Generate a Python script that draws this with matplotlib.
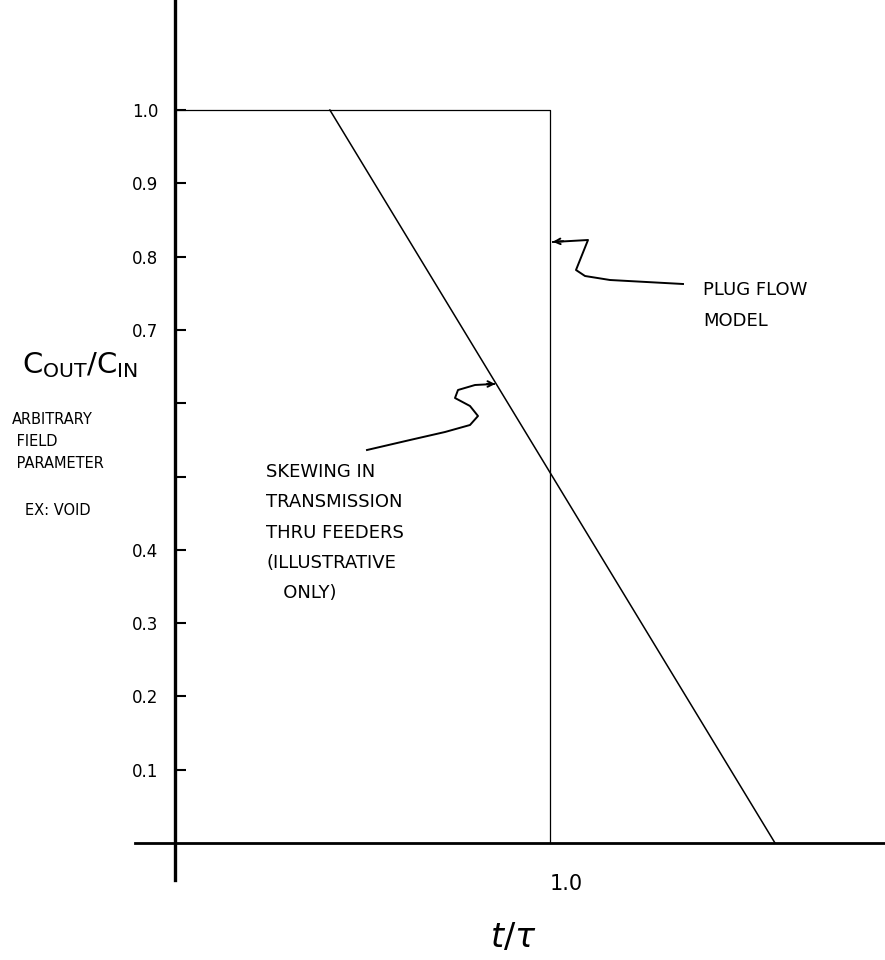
import matplotlib.pyplot as plt
import numpy as np

# plug flow model: step at t/tau = 1
plug_t = [0.0, 1.0, 1.0]
plug_c = [1.0, 1.0, 0.0]

# skewed response (illustrative)
skew_t = [0.413, 1.6]
skew_c = [1.0, 0.0]

y_ticks = [0.1, 0.2, 0.3, 0.4, 0.5, 0.6, 0.7, 0.8, 0.9, 1.0]
y_tick_labels = ["0.1", "0.2", "0.3", "0.4", "", "", "0.7", "0.8", "0.9", "1.0"]
x_ticks = [1.0]
x_tick_labels = ["1.0"]

W, H = 885, 960
X0, SX = 175, 375.0   # pixel of t=0, pixels per unit
Y0, SY = 843, 733.0   # pixel of c=0, pixels per unit


def px(x, y):
    # pixel position -> data position (for annotation sketches)
    return (x - X0) / SX, (Y0 - y) / SY


fig = plt.figure(figsize=(8.85, 9.6), dpi=100)
ax = fig.add_axes([0, 0, 1, 1])
ax.set_xlim(px(0, 0)[0], px(W, 0)[0])
ax.set_ylim(px(0, H)[1], px(0, 0)[1])

# axes drawn as spines through the origin
for s in ["top", "right"]:
    ax.spines[s].set_visible(False)
ax.spines["left"].set_position(("data", 0))
ax.spines["bottom"].set_position(("data", 0))
ax.spines["left"].set_linewidth(2.4)
ax.spines["bottom"].set_linewidth(2.0)
ax.spines["left"].set_bounds(px(0, 880)[1], px(0, 0)[1])
ax.spines["bottom"].set_bounds(px(135, 0)[0], px(W, 0)[0])

ax.set_yticks(y_ticks)
ax.set_yticklabels(y_tick_labels)
ax.tick_params(axis="y", direction="in", length=8, width=1.5, pad=12,
               labelsize=12)
ax.set_xticks(x_ticks)
ax.set_xticklabels(x_tick_labels)
ax.tick_params(axis="x", length=0, pad=22, labelsize=15)
for lab in ax.get_xticklabels():
    lab.set_horizontalalignment("left")

ax.plot(plug_t, plug_c, color="black", linewidth=0.9)
ax.plot(skew_t, skew_c, color="black", linewidth=1.1)

# axis labels
ax.text(*px(513, 937), r"$t/\tau$", fontsize=24, ha="center", va="center")
ax.text(*px(22, 365), r"C$_\mathregular{OUT}$/C$_\mathregular{IN}$",
        fontsize=21, ha="left", va="center")
ax.text(*px(12, 412), "ARBITRARY\n FIELD\n PARAMETER", fontsize=10.5,
        ha="left", va="top", linespacing=1.6)
ax.text(*px(25, 510), "EX: VOID", fontsize=10.5, ha="left", va="center")

# annotations
ax.text(*px(703, 281), "PLUG FLOW\nMODEL", fontsize=13, ha="left", va="top",
        linespacing=1.9)
ax.text(*px(266, 463), "SKEWING IN\nTRANSMISSION\nTHRU FEEDERS\n(ILLUSTRATIVE\n   ONLY)",
        fontsize=13, ha="left", va="top", linespacing=1.88)

plug_sq = np.array([px(683, 284), px(610, 280), px(585, 276), px(576, 270),
                    px(588, 240), px(553, 242)])
ax.plot(plug_sq[:, 0], plug_sq[:, 1], color="black", linewidth=1.4)
ax.annotate("", xy=px(550, 242), xytext=px(566, 241),
            arrowprops=dict(arrowstyle="->", color="black", lw=1.4))

skew_sq = np.array([px(367, 450), px(410, 440), px(445, 432), px(470, 425),
                    px(478, 416), px(470, 406), px(455, 398), px(458, 390),
                    px(475, 385), px(494, 384)])
ax.plot(skew_sq[:, 0], skew_sq[:, 1], color="black", linewidth=1.4)
ax.annotate("", xy=px(498, 384), xytext=px(484, 384),
            arrowprops=dict(arrowstyle="->", color="black", lw=1.4))

fig.savefig("out.png", dpi=100)
